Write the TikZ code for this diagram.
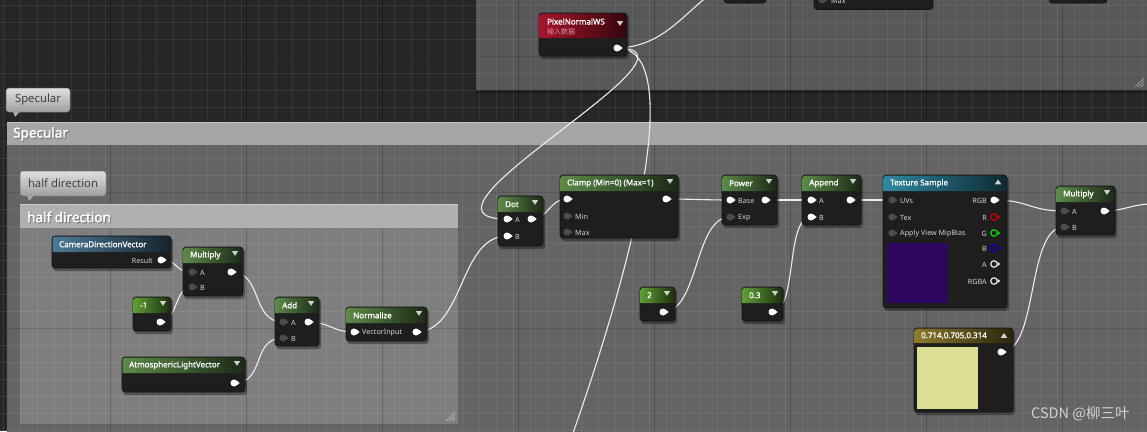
\documentclass[tikz,border=0pt]{standalone}
\usepackage{fontspec}
\setmainfont{Noto Sans}
\newfontfamily\cjk{Noto Sans CJK SC}
\newfontfamily\hdb{Noto Sans}[FakeBold=2.2]
\newfontfamily\tdb{Noto Sans}[FakeBold=1.2]
\usetikzlibrary{calc}
\pgfdeclarelayer{bg}
\pgfdeclarelayer{wires}
\pgfsetlayers{bg,wires,main}
\definecolor{gbg}{HTML}{262626}
\definecolor{topbox}{HTML}{585858}
\definecolor{specbody}{HTML}{646464}
\definecolor{spechead}{HTML}{A6A6A6}
\definecolor{halfbody}{HTML}{7E7E7E}
\definecolor{halfhead}{HTML}{B0B0B0}
\definecolor{nbody}{HTML}{1E1E1E}
\definecolor{hgreen}{HTML}{5C8A48}
\definecolor{hgreenb}{HTML}{5E9E34}
\definecolor{hblue}{HTML}{4C7A98}
\definecolor{hteal}{HTML}{2E88A2}
\definecolor{hred}{HTML}{A8142C}
\definecolor{holive}{HTML}{8C7A2C}
\definecolor{purp}{RGB}{46,8,96}
\definecolor{swatch}{RGB}{220,222,150}
\definecolor{wirec}{HTML}{EDEDED}
\tikzset{
  uebody/.style={draw=black!92, line width=0.6pt, fill=nbody, rounded corners=3pt, inner sep=0pt, outer sep=0pt},
  ttl/.style={text=white, font=\tdb\fontsize{8}{9}\selectfont, inner sep=0pt},
  plab/.style={text=black!18, font=\fontsize{7.2}{8}\selectfont, inner sep=0pt},
  tri/.style={fill=white!82!black},
  wire/.style={draw=wirec, line width=1.1pt},
  pinw/.style={circle, fill=white, inner sep=0pt, minimum size=7pt},
  pind/.style={circle, fill=black!70, inner sep=0pt, minimum size=7pt},
  pinh/.style={circle, draw=#1, line width=1.2pt, fill=nbody, inner sep=0pt, minimum size=6.5pt},
  gridminor/.style={white, opacity=0.07, line width=0.5pt},
  gridmajor/.style={black, opacity=0.2, line width=0.7pt},
  bubble/.style={draw=black!55, line width=0.5pt, top color=white!88!black, bottom color=white!62!black, rounded corners=3pt},
  bubtext/.style={text=black!75, font=\fontsize{11.3}{12}\selectfont, inner sep=0pt},
  chead/.style={text=white, font=\hdb\fontsize{13.5}{15}\selectfont, inner sep=0pt},
  cheadsh/.style={text=black!60, font=\hdb\fontsize{13.5}{15}\selectfont, inner sep=0pt, opacity=0.7},
}
\newcommand\uenode[8]{%
  \fill[black,opacity=0.35,rounded corners=3pt] ({#2+1},{#3+2}) rectangle ({#2+#4+2},{#3+#5+3});
  \node[uebody,minimum width=#4pt,minimum height=#5pt,anchor=north west] (#1) at (#2,#3) {};
  \shade[left color=#7, right color=#7!30!black] ({#2+0.6},{#3+#6}) [rounded corners=2.5pt] -- ({#2+0.6},{#3+0.6}) -- ({#2+#4-0.6},{#3+0.6}) [sharp corners] -- ({#2+#4-0.6},{#3+#6}) -- cycle;
  \node[ttl,anchor=west] (#1-t) at ({#2+7},{#3+#6/2+0.3}) {#8};
}
\newcommand\dd[2]{\fill[tri] ({#1-3.2},{#2}) -- ({#1+3.2},{#2}) -- ({#1},{#2+4.8}) -- cycle;}
\newcommand\du[2]{\fill[tri] ({#1-3.2},{#2+4.8}) -- ({#1+3.2},{#2+4.8}) -- ({#1},{#2}) -- cycle;}
\newcommand\pinW[3]{\node[pinw] (#1) at (#2,#3) {};\fill[white] ({#2+2.5},{#3-2.6}) -- ({#2+5.6},{#3}) -- ({#2+2.5},{#3+2.6}) -- cycle;}
\newcommand\pinD[3]{\node[pind] (#1) at (#2,#3) {};\fill[black!70] ({#2+2.5},{#3-2.6}) -- ({#2+5.6},{#3}) -- ({#2+2.5},{#3+2.6}) -- cycle;}
\newcommand\pinH[4]{\node[pinh=#4] (#1) at (#2,#3) {};\fill[#4] ({#2+3.6},{#3-2.2}) -- ({#2+6.2},{#3}) -- ({#2+3.6},{#3+2.2}) -- cycle;}
\newcommand\lab[3]{\node[plab,anchor=west] at (#1,#2) {#3};}
\newcommand\labr[3]{\node[plab,anchor=east] at (#1,#2) {#3};}
\begin{document}
\begin{tikzpicture}[x=1pt,y=-1pt]
\useasboundingbox (0,0) rectangle (1147,431);
\begin{pgfonlayer}{bg}
\clip (0,0) rectangle (1147,431);
\fill[gbg] (0,0) rectangle (1147,431);
% top comment box
\fill[topbox] (476,-5) rectangle (1152,90);
\fill[black,opacity=0.35] (476,90) rectangle (1152,93);
% Specular comment box
\fill[specbody] (7,145) rectangle (1152,440);
% half direction comment box
\fill[halfbody] (20,228) rectangle (458,424);
% grid
\foreach \x in {3,20,...,1150} \draw[gridminor] (\x,0) -- (\x,431);
\foreach \y in {5,22,...,431} \draw[gridminor] (0,\y) -- (1147,\y);
\foreach \x in {110,246,...,1150} \draw[gridmajor] (\x,0) -- (\x,431);
\foreach \y in {56,192,...,431} \draw[gridmajor] (0,\y) -- (1147,\y);
% comment headers
\fill[spechead] (7,122) rectangle (1152,145);
\draw[white,opacity=0.35,line width=0.8pt] (7,122.5) -- (1152,122.5);
\node[cheadsh,anchor=west] (spechs) at (14,135) {Specular};
\node[chead,anchor=west] (spech) at (13,134) {Specular};
\fill[halfhead] (20,204) rectangle (458,228);
\draw[white,opacity=0.35,line width=0.8pt] (20,204.5) -- (458,204.5);
\node[cheadsh,anchor=west] (halfhs) at (28,218) {half direction};
\node[chead,anchor=west] (halfh) at (27,217) {half direction};
% resize grips
\foreach \d in {3,6,9} {\draw[white,opacity=0.5,line width=0.5pt] ({455-\d},421) -- (455,{421-\d});}
\foreach \d in {3,6,9} {\draw[white,opacity=0.5,line width=0.5pt] ({1144-\d},87) -- (1144,{87-\d});}
% bubbles
\draw[bubble] (6,88) rectangle (70,112);
\fill[white!66!black] (13,111.5) -- (20,111.5) -- (15,117) -- cycle;
\node[bubtext] (spbub) at (38,100) {Specular};
\draw[bubble] (20,171) rectangle (106,196);
\fill[white!66!black] (27,195.5) -- (34,195.5) -- (29,201) -- cycle;
\node[bubtext] (hdbub) at (63,183.5) {half direction};
\end{pgfonlayer}

% ---------- partial nodes at the top ----------
\node[uebody,minimum width=42pt,minimum height=13pt,anchor=north west] (topa) at (724,-10) {};
\node[uebody,minimum width=119pt,minimum height=19.5pt,anchor=north west] (topb) at (814,-10) {};
\pinD{topbMax}{822}{0}
\lab{831}{0.5}{Max}
\node[uebody,minimum width=58pt,minimum height=13pt,anchor=north west] (topc) at (1049,-10) {};

% ---------- PixelNormalWS ----------
\uenode{pn}{539}{13}{88}{43}{25}{hred}{}
\node[ttl,anchor=west] (pnt) at (547,21.5) {PixelNormalWS};
\node[anchor=west,inner sep=0pt,text=hred!45!white,font=\cjk\fontsize{7}{8}\selectfont] (pnsub) at (547,32) {输入数据};
\dd{620}{21}
\pinW{pnOut}{617}{48}

% ---------- half direction nodes ----------
\uenode{cdv}{52}{236}{119}{32}{16}{hblue}{CameraDirectionVector}
\labr{153}{260.5}{Result}
\pinW{cdvOut}{161}{260}

\uenode{mulL}{183}{247}{60}{49}{16}{hgreen}{Multiply}
\dd{235}{251}
\pinD{mulLA}{192}{272}
\pinD{mulLB}{192}{287}
\lab{200}{272.5}{A}
\lab{200}{287.5}{B}
\pinW{mulLOut}{231}{272}

\uenode{neg}{133}{297}{38}{34}{16}{hgreenb}{-1}
\dd{163}{301}
\pinW{negOut}{160}{322}

\uenode{add}{275}{297}{44}{49}{16}{hgreen}{Add}
\dd{311}{301}
\pinD{addA}{283}{322}
\pinD{addB}{283}{338}
\lab{291}{322.5}{A}
\lab{291}{338.5}{B}
\pinW{addOut}{308}{322}

\uenode{norm}{346}{307}{81}{34}{16}{hgreen}{Normalize}
\dd{419}{311}
\pinW{normIn}{354}{332}
\lab{362}{332.5}{VectorInput}
\pinW{normOut}{416}{332}

\uenode{atm}{122}{357}{123}{35}{16}{hgreen}{AtmosphericLightVector}
\dd{237}{361}
\pinW{atmOut}{234}{383}

% ---------- main chain ----------
\uenode{dot}{498}{196}{45}{50}{16}{hgreen}{Dot}
\dd{535}{200}
\pinW{dotA}{507}{219}
\pinW{dotB}{507}{236}
\lab{515}{219.5}{A}
\lab{515}{236.5}{B}
\pinW{dotOut}{531}{219}

\uenode{clamp}{560}{175}{118}{63}{16}{hgreen}{Clamp (Min=0) (Max=1)}
\dd{670}{179}
\pinW{clampIn}{567}{199}
\pinD{clampMin}{567}{216}
\pinD{clampMax}{567}{232}
\lab{575}{216.5}{Min}
\lab{575}{232.5}{Max}
\pinW{clampOut}{666}{199}

\uenode{pow}{722}{175}{55}{50}{16}{hgreen}{Power}
\dd{769}{179}
\pinW{powBase}{730}{200}
\pinD{powExp}{730}{217}
\lab{738}{200.5}{Base}
\lab{738}{217.5}{Exp}
\pinW{powOut}{765}{200}

\uenode{app}{802}{175}{59}{50}{16}{hgreen}{Append}
\dd{853}{179}
\pinW{appA}{811}{200}
\pinW{appB}{811}{217}
\lab{819}{200.5}{A}
\lab{819}{217.5}{B}
\pinW{appOut}{850}{200}

\uenode{two}{640}{287}{35}{34}{16}{hgreenb}{2}
\dd{667}{291}
\pinW{twoOut}{663}{312}

\uenode{ptt}{742}{287}{41}{34}{16}{hgreenb}{0.3}
\dd{775}{291}
\pinW{pttOut}{772}{312}

\uenode{tex}{883}{175}{124}{133}{16}{hteal}{Texture Sample}
\du{998}{179.5}
\pinD{texUV}{892}{200}
\pinD{texTex}{892}{217}
\pinD{texMip}{892}{233}
\lab{900}{200.5}{UVs}
\lab{900}{217.5}{Tex}
\lab{900}{233.5}{Apply View MipBias}
\pinW{texRGB}{994}{200}
\pinH{texR}{994}{217}{red!80!black}
\pinH{texG}{994}{233}{green!85!black}
\pinH{texB}{994}{248}{blue!80!black}
\pinH{texA}{994}{264}{white!90!black}
\pinH{texRGBA}{994}{281}{white!90!black}
\labr{987}{200.5}{RGB}
\labr{987}{217.5}{R}
\labr{987}{233.5}{G}
\labr{987}{248.5}{B}
\labr{987}{264.5}{A}
\labr{987}{281.5}{RGBA}
\fill[purp] (887,243) rectangle (948,303);

\uenode{mulR}{1056}{186}{59}{49}{16}{hgreen}{Multiply}
\dd{1107}{190}
\pinD{mulRA}{1064}{211}
\pinD{mulRB}{1064}{227}
\lab{1072}{211.5}{A}
\lab{1072}{227.5}{B}
\pinW{mulROut}{1104}{211}

\uenode{cst}{914}{328}{99}{84}{15}{holive}{0.714,0.705,0.314}
\du{1004}{333}
\fill[swatch] (917,347) rectangle (978,409);
\pinW{cstOut}{1001}{352}

% free ends of wires
\coordinate (pnDown) at (572,436);
\coordinate (pnUp) at (708,-4);
\coordinate (rightEnd) at (1152,204);

% watermark
\node[anchor=west,inner sep=0pt,text=white!82!black,font=\cjk\fontsize{14.5}{15}\selectfont] (wm) at (1031,414) {CSDN @柳三叶};

% ---------- wires ----------
\begin{pgfonlayer}{wires}
\draw[wire] (cdvOut.center) .. controls +(18,0) and +(-18,0) .. (mulLA.center);
\draw[wire] (negOut.center) .. controls +(18,0) and +(-18,0) .. (mulLB.center);
\draw[wire] (mulLOut.center) .. controls +(32,0) and +(-32,0) .. (addA.center);
\draw[wire] (atmOut.center) .. controls +(32,0) and +(-32,0) .. (addB.center);
\draw[wire] (addOut.center) .. controls +(22,0) and +(-22,0) .. (normIn.center);
\draw[wire] (normOut.center) .. controls +(48,0) and +(-48,0) .. (dotB.center);
\draw[wire] (pnOut.center) .. controls +(105,0) and +(-118,0) .. (dotA.center);
\draw[wire] (pnOut.center) .. controls (675,47) and (655,200) .. (pnDown);
\draw[wire] (pnOut.center) .. controls (660,47) and (680,18) .. (pnUp);
\draw[wire] (dotOut.center) .. controls +(18,0) and +(-18,0) .. (clampIn.center);
\draw[wire] (clampOut.center) .. controls +(25,0) and +(-25,0) .. (powBase.center);
\draw[wire] (powOut.center) .. controls +(18,0) and +(-18,0) .. (appA.center);
\draw[wire] (twoOut.center) .. controls +(36,0) and +(-36,0) .. (powExp.center);
\draw[wire] (pttOut.center) .. controls +(26,0) and +(-26,0) .. (appB.center);
\draw[wire] (appOut.center) .. controls +(15,0) and +(-15,0) .. (texUV.center);
\draw[wire] (texRGB.center) .. controls +(35,0) and +(-35,0) .. (mulRA.center);
\draw[wire] (cstOut.center) .. controls +(38,0) and +(-38,0) .. (mulRB.center);
\draw[wire] (mulROut.center) .. controls +(20,0) and +(-20,0) .. (rightEnd);
\end{pgfonlayer}
\end{tikzpicture}
\end{document}
